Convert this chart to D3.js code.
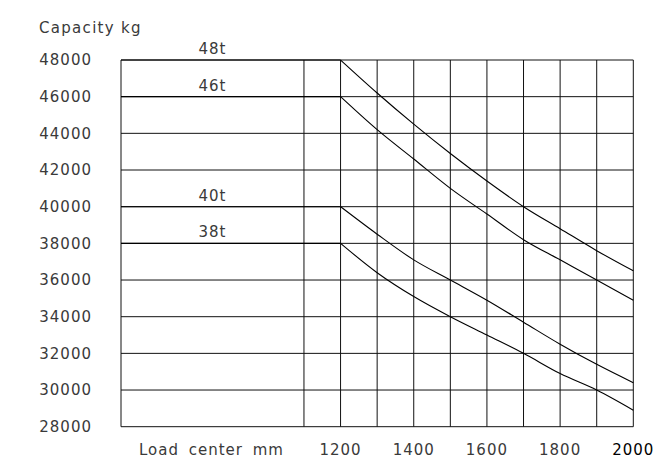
<!DOCTYPE html>
<html>
<head>
<meta charset="utf-8">
<script src="https://cdn.jsdelivr.net/npm/d3@7/dist/d3.min.js"></script>
<style>
  html, body { margin: 0; padding: 0; background: #fff; }
  svg { display: block; }
  text { font-family: "DejaVu Sans", sans-serif; font-size: 15px; fill: #3a3a3a; letter-spacing: 1px; }
</style>
</head>
<body>
<script>
// ---- data ----
const loadCenters = [600, 1200, 1300, 1400, 1500, 1600, 1700, 1800, 1900, 2000];
const seriesNames = ["48t", "46t", "40t", "38t"];
const cap48 = [48000, 48000, 46200, 44500, 42900, 41400, 40000, 38800, 37600, 36500];
const cap46 = [46000, 46000, 44200, 42600, 41000, 39600, 38200, 37100, 36000, 34900];
const cap40 = [40000, 40000, 38500, 37100, 36000, 34900, 33700, 32500, 31400, 30400];
const cap38 = [38000, 38000, 36400, 35100, 34000, 33000, 32000, 30900, 30000, 28900];
const yTicks = [28000, 30000, 32000, 34000, 36000, 38000, 40000, 42000, 44000, 46000, 48000];
const xTicks = [1200, 1400, 1600, 1800, 2000];
const gridX = [600, 1100, 1200, 1300, 1400, 1500, 1600, 1700, 1800, 1900, 2000];
const labelX = 850;

const W = 668, H = 465;
const svg = d3.select("body").append("svg").attr("width", W).attr("height", H);

const x = d3.scaleLinear().domain([600, 2000]).range([121, 633.3]);
const y = d3.scaleLinear().domain([28000, 48000]).range([426.7, 60]);

// horizontal grid
svg.append("g").selectAll("line").data(yTicks).join("line")
  .attr("x1", x(600)).attr("x2", x(2000))
  .attr("y1", d => y(d)).attr("y2", d => y(d))
  .attr("stroke", "#111").attr("stroke-width", 1);

// vertical grid
svg.append("g").selectAll("line").data(gridX).join("line")
  .attr("x1", d => x(d)).attr("x2", d => x(d))
  .attr("y1", y(28000)).attr("y2", y(48000))
  .attr("stroke", "#111").attr("stroke-width", 1);

// y tick labels
svg.append("g").selectAll("text").data(yTicks).join("text")
  .attr("x", 92).attr("y", d => y(d)).attr("dy", "0.36em")
  .attr("text-anchor", "end").text(d => d);

// x tick labels
svg.append("g").selectAll("text").data(xTicks).join("text")
  .attr("x", d => x(d)).attr("y", 455)
  .attr("text-anchor", "middle")
  .style("fill", d => d === 2000 ? "#000" : "#3a3a3a")
  .text(d => d);

svg.append("text").attr("x", x(850) - 1).attr("y", 455)
  .attr("text-anchor", "middle").style("word-spacing", "4px").text("Load center mm");

svg.append("text").attr("x", 39).attr("y", 33).style("letter-spacing", "1.3px").text("Capacity kg");

// curves: flat rated part + smooth derated part
const all = [cap48, cap46, cap40, cap38];
const flat = d3.line().x((d, i) => x(loadCenters[i])).y(d => y(d));
const curve = d3.line().curve(d3.curveMonotoneX)
  .x(d => x(d[0])).y(d => y(d[1]));
const g = svg.append("g").attr("fill", "none").attr("stroke", "#000").attr("stroke-width", 1.1);
all.forEach(s => {
  g.append("path").attr("d", flat(s.slice(0, 2)));
  const pts = s.map((v, i) => [loadCenters[i], v]).slice(1);
  g.append("path").attr("d", curve(pts));
});

// series labels
svg.append("g").selectAll("text").data(all).join("text")
  .attr("x", x(labelX)).attr("y", d => y(d[0]) - 6)
  .attr("text-anchor", "middle")
  .text((d, i) => seriesNames[i]);
</script>
</body>
</html>
